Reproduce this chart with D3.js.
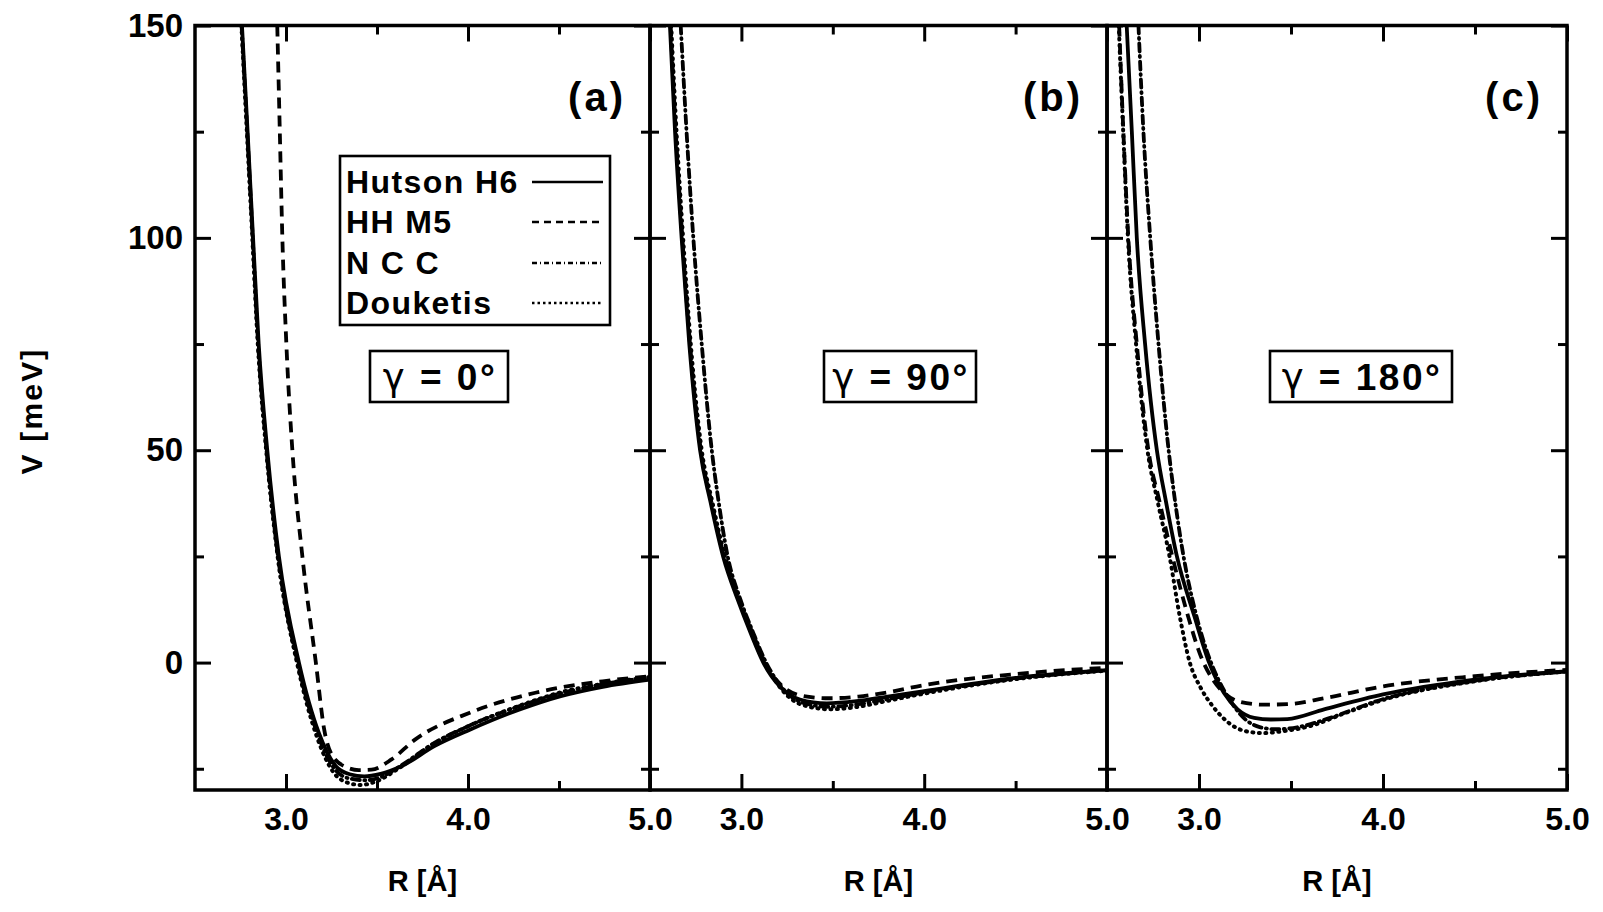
<!DOCTYPE html>
<html><head><meta charset="utf-8">
<script src="https://cdn.jsdelivr.net/npm/d3@7"></script>
<style>
body{margin:0;background:#fff}
svg{display:block;background:#fff}
text{font-family:"Liberation Sans",Arial,Helvetica,sans-serif;font-weight:bold;fill:#000}
tspan.greek{font-family:"DejaVu Sans",sans-serif;font-weight:normal}
</style></head>
<body><svg id="chart" width="1603" height="912"></svg>
<script>
// ---------- data ----------
const panelLabels = ["(a)", "(b)", "(c)"];
const gammaSymbol = "γ";
const gammaLabels = [" = 0°", " = 90°", " = 180°"];
const seriesNames = ["Hutson H6", "HH M5", "N C C", "Douketis"];
const xDomain = [2.5, 5.0];
const yDomain = [-30, 150];
const xTickMajor = [3.0, 4.0, 5.0];
const xTickMinor = [3.5, 4.5];
const yTickMajor = [0, 50, 100, 150];
const yTickMinor = [-25, 25, 75, 125];
const xTitle = "R [Å]";
const yTitle = "V [meV]";

// panel (a) gamma = 0
const hutsonA = [[2.758,150],[2.789,125],[2.819,100],[2.850,75],[2.897,50],[2.961,25],[3.071,0],[3.18,-16.5],[3.274,-24.4],[3.35,-26.3],[3.43,-26.8],[3.52,-26.2],[3.634,-24.4],[3.818,-19.6],[4.01,-15.8],[4.28,-11.1],[4.51,-7.9],[4.74,-5.7],[5.0,-4.0]];
const hhm5A   = [[2.952,150],[2.966,125],[2.980,100],[3.002,75],[3.035,50],[3.090,25],[3.164,0],[3.21,-15.8],[3.256,-22],[3.33,-24.6],[3.40,-25.3],[3.47,-25.2],[3.58,-22.8],[3.707,-18.2],[4.01,-11.8],[4.37,-7.1],[4.74,-4.4],[5.0,-3.2]];
const nccA    = [[2.756,150],[2.787,125],[2.817,100],[2.847,75],[2.893,50],[2.956,25],[3.064,0],[3.175,-17],[3.27,-25.2],[3.35,-27.3],[3.44,-27.7],[3.53,-26.8],[3.64,-24.0],[3.82,-18.8],[4.01,-14.8],[4.28,-10.3],[4.51,-7.2],[4.74,-5.1],[5.0,-3.5]];
const doukA   = [[2.755,150],[2.785,125],[2.815,100],[2.845,75],[2.891,50],[2.954,25],[3.06,0],[3.17,-17.5],[3.26,-25.8],[3.34,-28.3],[3.41,-28.8],[3.50,-27.9],[3.62,-24.9],[3.80,-19.4],[4.01,-14.8],[4.28,-10.2],[4.51,-7.0],[4.74,-5.0],[5.0,-3.4]];
// panel (b) gamma = 90
const hutsonB = [[2.609,150],[2.637,125],[2.673,100],[2.715,75],[2.774,50],[2.83,38],[2.90,25],[2.98,14.8],[3.05,7],[3.12,0],[3.21,-5.6],[3.32,-8.7],[3.467,-9.6],[3.63,-9.1],[3.8,-8.0],[4.0,-6.7],[4.5,-3.6],[5.0,-1.8]];
const hhm5B   = [[2.613,150],[2.641,125],[2.677,100],[2.719,75],[2.778,50],[2.835,38],[2.905,25],[2.985,14.8],[3.055,7],[3.125,0],[3.215,-5.2],[3.33,-7.8],[3.48,-8.4],[3.64,-8.0],[3.8,-7.0],[4.0,-5.3],[4.5,-2.7],[5.0,-1.2]];
const nccB    = [[2.668,150],[2.70,125],[2.737,100],[2.783,75],[2.838,50],[2.875,38],[2.925,25],[2.995,14.8],[3.065,7],[3.135,0],[3.225,-6],[3.34,-9.5],[3.48,-10.4],[3.64,-9.8],[3.8,-8.6],[4.0,-7.0],[4.5,-3.8],[5.0,-1.8]];
const doukB   = [[2.616,150],[2.645,125],[2.681,100],[2.723,75],[2.783,50],[2.84,38],[2.91,25],[2.99,14.8],[3.06,7],[3.13,0],[3.22,-6.3],[3.33,-9.9],[3.485,-11.0],[3.64,-10.4],[3.8,-9.0],[4.0,-7.3],[4.5,-3.9],[5.0,-1.9]];
// panel (c) gamma = 180
const hutsonC = [[2.607,150],[2.635,125],[2.662,100],[2.707,75],[2.771,50],[2.82,38],[2.88,25],[2.975,10.9],[3.055,0],[3.135,-7.1],[3.21,-11],[3.30,-13],[3.39,-13.4],[3.48,-13.3],[3.68,-11],[4.0,-7.5],[4.5,-4.0],[5.0,-2.0]];
const hhm5C   = [[2.566,150],[2.589,125],[2.616,100],[2.662,75],[2.725,50],[2.785,38],[2.855,25],[2.94,11],[3.01,1.5],[3.075,-4],[3.135,-7.1],[3.22,-9.2],[3.35,-9.9],[3.48,-9.8],[3.68,-8.4],[4.0,-5.6],[4.5,-3.2],[5.0,-1.7]];
const nccC    = [[2.671,150],[2.698,125],[2.735,100],[2.78,75],[2.835,50],[2.87,38],[2.916,25],[2.98,12],[3.04,3],[3.10,-3.5],[3.17,-9],[3.25,-13.3],[3.33,-15.2],[3.42,-15.7],[3.55,-15.1],[3.7,-13.2],[4.0,-8.6],[4.5,-4.3],[5.0,-2.1]];
const doukC   = [[2.564,150],[2.588,125],[2.614,100],[2.658,75],[2.72,50],[2.775,38],[2.84,25],[2.895,11],[2.95,0],[3.01,-6],[3.07,-10],[3.13,-13],[3.2,-15.3],[3.27,-16.3],[3.35,-16.6],[3.45,-16.2],[3.6,-15.0],[3.8,-11.8],[4.0,-8.8],[4.5,-4.4],[5.0,-2.1]];

const panelSeries = [
  [hutsonA, hhm5A, nccA, doukA],
  [hutsonB, hhm5B, nccB, doukB],
  [hutsonC, hhm5C, nccC, doukC]
];

// ---------- layout / style ----------
const svg = d3.select("#chart");
const edges = [[195, 650], [650, 1107], [1107, 1567]];
const yTop = 25.5, yBot = 790;
const y = d3.scaleLinear().domain(yDomain).range([yBot, yTop]);
const lineStyles = [
  {w: 3.8, dash: null, cap: "butt"},
  {w: 3.8, dash: "11,7", cap: "butt"},
  {w: 3.8, dash: "8,4.5,1,4.5", cap: "round"},
  {w: 4.0, dash: "1,5.5", cap: "round"}
];
const legendStyles = [
  {w: 2.6, dash: null, cap: "butt"},
  {w: 2.6, dash: "7,5", cap: "butt"},
  {w: 2.4, dash: "5,3,1,3", cap: "butt"},
  {w: 2.4, dash: "2.5,3", cap: "butt"}
];
const defs = svg.append("defs");

function styleAxis(sel, fs) {
  sel.select(".domain").remove();
  sel.attr("font-family", null).attr("font-size", null);
  sel.selectAll(".tick line").attr("stroke", "#000").attr("stroke-width", 3);
  sel.selectAll(".tick text").attr("font-size", fs).attr("fill", "#000");
}

panelSeries.forEach((series, i) => {
  const x = d3.scaleLinear().domain(xDomain).range(edges[i]);
  const g = svg.append("g");
  const [x0, x1] = edges[i];

  defs.append("clipPath").attr("id", "clip" + i)
    .append("rect").attr("x", x0).attr("y", yTop).attr("width", x1 - x0).attr("height", yBot - yTop);

  const line = d3.line().x(d => x(d[0])).y(d => y(d[1])).curve(d3.curveMonotoneX);
  g.append("g").attr("clip-path", `url(#clip${i})`)
    .selectAll("path").data(series).join("path")
    .attr("d", d => line(d))
    .attr("fill", "none").attr("stroke", "#000")
    .attr("stroke-width", (d, j) => lineStyles[j].w)
    .attr("stroke-dasharray", (d, j) => lineStyles[j].dash)
    .attr("stroke-linecap", (d, j) => lineStyles[j].cap)
    .attr("stroke-linejoin", "round");

  // bottom axis
  g.append("g").attr("transform", `translate(0,${yBot})`)
    .call(d3.axisBottom(x).tickValues(xTickMajor).tickSize(-16).tickPadding(17).tickFormat(d3.format(".1f")))
    .call(s => styleAxis(s, 32));
  g.append("g").attr("transform", `translate(0,${yBot})`)
    .call(d3.axisBottom(x).tickValues(xTickMinor).tickSize(-9).tickFormat(""))
    .call(s => styleAxis(s, 0));
  // top axis
  g.append("g").attr("transform", `translate(0,${yTop})`)
    .call(d3.axisTop(x).tickValues(xTickMajor).tickSize(-16).tickFormat(""))
    .call(s => styleAxis(s, 0));
  g.append("g").attr("transform", `translate(0,${yTop})`)
    .call(d3.axisTop(x).tickValues(xTickMinor).tickSize(-9).tickFormat(""))
    .call(s => styleAxis(s, 0));
  // left axis
  g.append("g").attr("transform", `translate(${x0},0)`)
    .call(d3.axisLeft(y).tickValues(yTickMajor).tickSize(-16).tickPadding(12)
      .tickFormat(i === 0 ? d3.format("d") : ""))
    .call(s => styleAxis(s, 33));
  g.append("g").attr("transform", `translate(${x0},0)`)
    .call(d3.axisLeft(y).tickValues(yTickMinor).tickSize(-9).tickFormat(""))
    .call(s => styleAxis(s, 0));
  // right axis
  g.append("g").attr("transform", `translate(${x1},0)`)
    .call(d3.axisRight(y).tickValues(yTickMajor).tickSize(-16).tickFormat(""))
    .call(s => styleAxis(s, 0));
  g.append("g").attr("transform", `translate(${x1},0)`)
    .call(d3.axisRight(y).tickValues(yTickMinor).tickSize(-9).tickFormat(""))
    .call(s => styleAxis(s, 0));

  // frame
  g.append("rect").attr("x", x0).attr("y", yTop).attr("width", x1 - x0).attr("height", yBot - yTop)
    .attr("fill", "none").attr("stroke", "#000").attr("stroke-width", 3.5);

  // panel label
  g.append("text").attr("x", x1 - 24).attr("y", 111).attr("text-anchor", "end")
    .attr("font-size", 40).attr("letter-spacing", 3).text(panelLabels[i]);

  // x title
  g.append("text").attr("x", (x0 + x1) / 2).attr("y", 891).attr("text-anchor", "middle")
    .attr("font-size", 29).text(xTitle);
});

// gamma boxes
const gammaBoxes = [[370, 351, 138, 51], [824, 351, 152, 51], [1270, 351, 182, 51]];
gammaBoxes.forEach((b, i) => {
  const g = svg.append("g");
  g.append("rect").attr("x", b[0]).attr("y", b[1]).attr("width", b[2]).attr("height", b[3])
    .attr("fill", "#fff").attr("stroke", "#000").attr("stroke-width", 2.6);
  const t = g.append("text").attr("x", b[0] + b[2] / 2 + 1).attr("y", b[1] + b[3] / 2 + 13)
    .attr("text-anchor", "middle").attr("font-size", 37).attr("letter-spacing", 2.5);
  t.append("tspan").attr("class", "greek").text(gammaSymbol);
  t.append("tspan").text(gammaLabels[i]);
});

// legend
const leg = svg.append("g").attr("transform", "translate(340,156)");
leg.append("rect").attr("width", 270).attr("height", 169).attr("fill", "#fff")
  .attr("stroke", "#000").attr("stroke-width", 2.6);
const rowY = [25, 65, 106, 146];
seriesNames.forEach((name, j) => {
  leg.append("text").attr("x", 6).attr("y", rowY[j] + 11.5).attr("font-size", 32)
    .attr("letter-spacing", 1.4).text(name);
  leg.append("line").attr("x1", 192).attr("x2", 263).attr("y1", rowY[j] + 1).attr("y2", rowY[j] + 1)
    .attr("stroke", "#000").attr("stroke-width", legendStyles[j].w)
    .attr("stroke-dasharray", legendStyles[j].dash);
});

// y title
svg.append("text").attr("transform", "translate(31,411) rotate(-90)")
  .attr("text-anchor", "middle").attr("dominant-baseline", "central")
  .attr("font-size", 30).attr("letter-spacing", 2.2).text(yTitle);
</script>
</body></html>
